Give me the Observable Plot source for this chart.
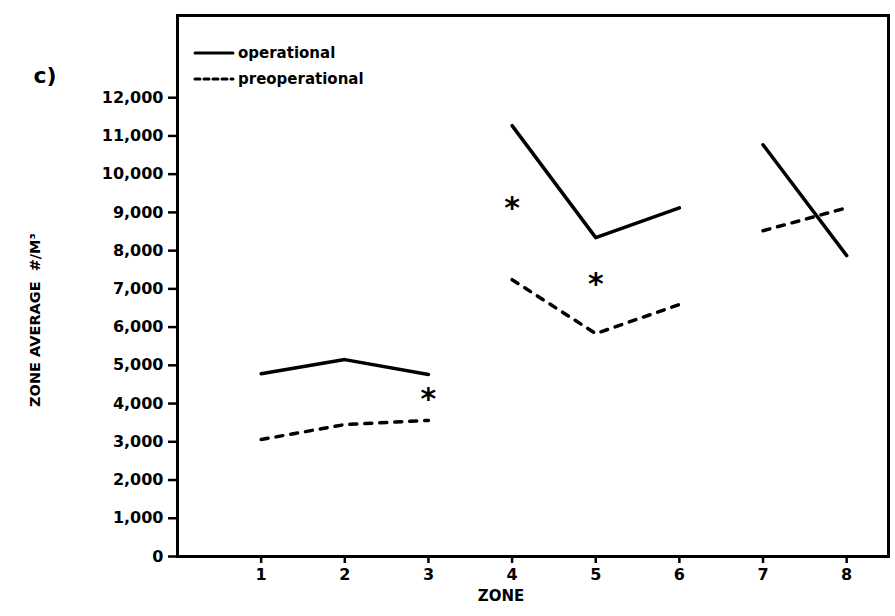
<!DOCTYPE html>
<html>
<head>
<meta charset="utf-8">
<script src="https://cdn.jsdelivr.net/npm/d3@7"></script>
<script src="https://cdn.jsdelivr.net/npm/@observablehq/plot@0.6"></script>
<style>
  html, body { margin: 0; padding: 0; background: #fff; }
  #wrap { position: relative; width: 895px; height: 616px; }
  #legend { position: absolute; left: 193px; top: 40px; font-family: "DejaVu Sans", sans-serif; font-weight: bold; font-size: 15px; color: #000; }
  #legend .item { display: flex; align-items: center; height: 26px; }
  #legend svg { margin-right: 3px; }
</style>
</head>
<body>
<div id="wrap"><div id="legend"></div></div>
<script>
// Data
const zones = [1, 2, 3, 4, 5, 6, 7, 8];
const segments = ["a", "a", "a", "b", "b", "b", "c", "c"];
const operational = [4780, 5150, 4760, 11270, 8340, 9120, 10770, 7870];
const preoperational = [3060, 3450, 3560, 7240, 5830, 6590, 8520, 9120];
const starZones = [3, 4, 5];
const starValues = [4180, 9180, 7190];
const yTicks = [0, 1000, 2000, 3000, 4000, 5000, 6000, 7000, 8000, 9000, 10000, 11000, 12000];
const xTicks = [1, 2, 3, 4, 5, 6, 7, 8];
const seriesNames = ["operational", "preoperational"];

const rows = zones.map((z, i) => ({zone: z, seg: segments[i], op: operational[i], pre: preoperational[i]}));
const stars = starZones.map((z, i) => ({zone: z, value: starValues[i]}));

const chart = Plot.plot({
  width: 895,
  height: 616,
  marginLeft: 177,
  marginRight: 7,
  marginTop: 15,
  marginBottom: 60,
  x: {domain: [0, 8.5]},
  y: {domain: [0, 14150]},
  style: {fontFamily: "DejaVu Sans, sans-serif", fontWeight: "bold", fontSize: "16px", color: "#000", background: "#fff"},
  marks: [
    Plot.axisY({ticks: yTicks, tickSize: 9, tickPadding: 5, tickFormat: d3.format(","), label: null, strokeWidth: 2.5}),
    Plot.axisX({ticks: xTicks, tickSize: 7, tickPadding: 5, tickFormat: d => String(d), label: null, strokeWidth: 2.5}),
    Plot.frame({stroke: "#000", strokeWidth: 3}),
    Plot.line(rows, {x: "zone", y: "op", z: "seg", stroke: "#000", strokeWidth: 3.5, strokeLinecap: "round"}),
    Plot.line(rows, {x: "zone", y: "pre", z: "seg", stroke: "#000", strokeWidth: 3.5, strokeLinecap: "round", strokeDasharray: "7,8"}),
    Plot.text(stars, {x: "zone", y: "value", text: () => "*", fontSize: 30, dy: 3, fill: "#000"}),
    Plot.text(["ZONE"], {frameAnchor: "bottom", text: d => d, textAnchor: "middle", dx: -32, dy: 44, fontSize: 15}),
    Plot.text(["ZONE AVERAGE  #/M\u00B3"], {frameAnchor: "left", text: d => d, textAnchor: "middle", rotate: -90, dx: -142, dy: 34, fontSize: 14.5}),
    Plot.text(["c)"], {frameAnchor: "top-left", text: d => d, textAnchor: "start", dx: -144, dy: 52, fontSize: 22})
  ]
});
document.getElementById("wrap").prepend(chart);

const legend = document.getElementById("legend");
seriesNames.forEach((name, i) => {
  const item = document.createElement("div");
  item.className = "item";
  const dash = i === 0 ? "" : ' stroke-dasharray="5,4"';
  item.innerHTML = `<svg width="42" height="10"><line x1="2" y1="5" x2="40" y2="5" stroke="#000" stroke-width="3" stroke-linecap="round"${dash}/></svg><span>${name}</span>`;
  legend.appendChild(item);
});
</script>
</body>
</html>
